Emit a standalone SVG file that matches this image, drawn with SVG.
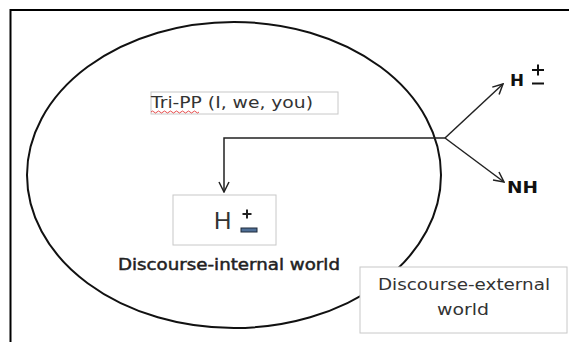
<svg xmlns="http://www.w3.org/2000/svg" width="569" height="342" viewBox="0 0 569 342">
<defs>
<style>
.frame{fill:none;stroke:#000;stroke-width:2}
.ell{fill:none;stroke:#111;stroke-width:2}
.box{fill:#fff;stroke:#c8c8c8;stroke-width:1}
.con{fill:none;stroke:#222;stroke-width:1.5}
.t{font-family:"DejaVu Sans",Verdana,sans-serif;fill:#333}
.b{font-family:"DejaVu Sans",Verdana,sans-serif;font-weight:bold;fill:#111}
.m{font-family:"DejaVu Sans",Verdana,sans-serif;fill:#222;stroke:#222;stroke-width:0.45}
</style>
<marker id="open" viewBox="0 0 12 12" refX="11" refY="6" markerWidth="12" markerHeight="12" markerUnits="userSpaceOnUse" orient="auto">
<path d="M1,1 L11,6 L1,11" fill="none" stroke="#222" stroke-width="1.5"/>
</marker>
</defs>
<rect width="569" height="342" fill="#fff"/>
<path class="frame" d="M10.5,342 V10 H569"/>
<g id="circle"><ellipse class="ell" cx="234" cy="175" rx="207" ry="153"/></g>
<g id="tripp">
<rect class="box" x="151" y="92" width="187" height="22"/>
<text class="t" x="151" y="108" font-size="16" textLength="162" lengthAdjust="spacingAndGlyphs">Tri-PP (I, we, you)</text>
<path d="M151,112 q1.5,-2 3,0 t3,0 t3,0 t3,0 t3,0 t3,0 t3,0 t3,0 t3,0 t3,0 t3,0 t3,0 t3,0 t3,0 t3,0 t3,0" fill="none" stroke="#e02020" stroke-width="0.8"/>
</g>
<g id="hpm">
<rect class="box" x="173" y="195" width="103" height="50"/>
<text x="214" y="229" font-size="24" fill="#333" style="font-family:'Liberation Sans',Arial,sans-serif">H</text>
<path d="M242.5,214 h9 M247,209.5 v9" stroke="#222" stroke-width="2"/>
<rect x="241" y="228" width="16" height="4" fill="#4f6f96" stroke="#1e2a3a" stroke-width="1"/>
</g>
<g id="internal"><text class="m" x="118" y="270" font-size="15" textLength="222" lengthAdjust="spacingAndGlyphs">Discourse-internal world</text></g>
<g id="external">
<rect class="box" x="360" y="267" width="207" height="66"/>
<text class="t" x="378" y="290" font-size="16" textLength="172" lengthAdjust="spacingAndGlyphs">Discourse-external</text>
<text class="t" x="437" y="315" font-size="16" textLength="52" lengthAdjust="spacingAndGlyphs">world</text>
</g>
<g id="hpm2">
<text class="b" x="510" y="86" font-size="16" textLength="14" lengthAdjust="spacingAndGlyphs">H</text>
<path d="M532,70 h12 M538,64.5 v11 M532,83.5 h12" stroke="#111" stroke-width="2"/>
</g>
<g id="nh"><text class="b" x="507" y="193" font-size="15" textLength="31" lengthAdjust="spacingAndGlyphs">NH</text></g>
<g id="connectors">
<path class="con" d="M445,138 H224 V192" marker-end="url(#open)"/>
<path class="con" d="M445,138 L503,84" marker-end="url(#open)"/>
<path class="con" d="M445,138 L504,182" marker-end="url(#open)"/>
</g>
</svg>
